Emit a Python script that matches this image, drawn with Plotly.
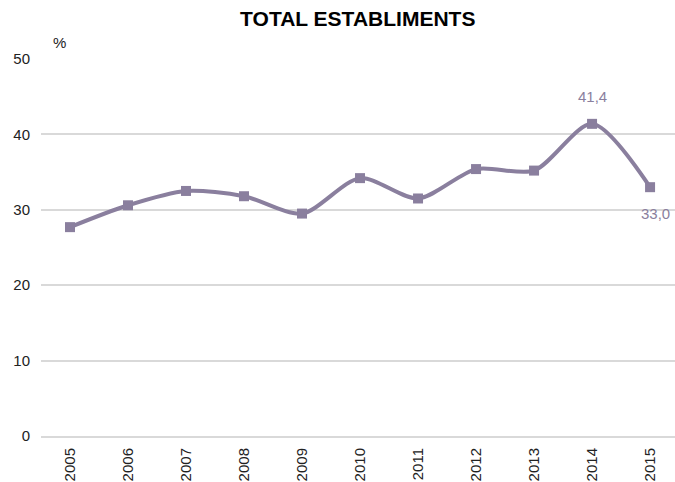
import plotly.graph_objects as go

years = [2005, 2006, 2007, 2008, 2009, 2010, 2011, 2012, 2013, 2014, 2015]
values = [27.7, 30.6, 32.5, 31.8, 29.5, 34.2, 31.5, 35.4, 35.2, 41.4, 33.0]
labeled_years = [2014, 2015]
labeled_text = ["41,4", "33,0"]
labeled_vals = [41.4, 33.0]

color = "#8a7f9e"
font_family = "Liberation Sans, Arial"

fig = go.Figure()
fig.add_trace(go.Scatter(
    x=years, y=values,
    mode="lines+markers",
    line=dict(color=color, width=4, shape="spline", smoothing=0.8),
    marker=dict(symbol="square", size=10, color=color),
    cliponaxis=False,
    hoverinfo="skip",
))

annotations = [dict(text="%", xref="paper", yref="paper", x=0.0, y=1.0,
                    xanchor="left", yanchor="bottom", yshift=6, xshift=10,
                    showarrow=False, font=dict(size=15, color="#222222"))]
shifts = [27, -26]
for yr, t, v, s in zip(labeled_years, labeled_text, labeled_vals, shifts):
    annotations.append(dict(text=t, x=yr, y=v, xref="x", yref="y",
                            showarrow=False, yshift=s, xshift=(0 if s > 0 else 5),
                            font=dict(family=font_family, size=15, color=color)))

fig.update_layout(
    width=675, height=482,
    margin=dict(l=41, r=0, t=59, b=46, autoexpand=False),
    paper_bgcolor="white", plot_bgcolor="white",
    showlegend=False,
    font=dict(family=font_family, size=15, color="#222222"),
    title=dict(text="<b>TOTAL ESTABLIMENTS</b>", x=0.53, xanchor="center",
               y=0.962, yanchor="middle",
               font=dict(family=font_family, size=21, color="black")),
    xaxis=dict(range=[2004.5, 2015.43], tickmode="array", tickvals=years,
               ticktext=[str(y) for y in years], tickangle=-90,
               showgrid=False, zeroline=False, showline=True,
               linecolor="#d9d9d9", linewidth=2, ticks="", automargin=False,
               ticklabelstandoff=4,
               tickfont=dict(size=15, color="#222222")),
    yaxis=dict(range=[0, 50], tickvals=[0, 10, 20, 30, 40, 50],
               showgrid=True, gridcolor="#d9d9d9", gridwidth=2,
               zeroline=False, showline=False, ticks="", automargin=False,
               ticklabelstandoff=10,
               tickfont=dict(size=15, color="#222222")),
    annotations=annotations,
)

fig.write_html("out.html", config={"displayModeBar": False},
               post_script="document.body.style.margin='0';document.body.style.overflow='hidden';")
